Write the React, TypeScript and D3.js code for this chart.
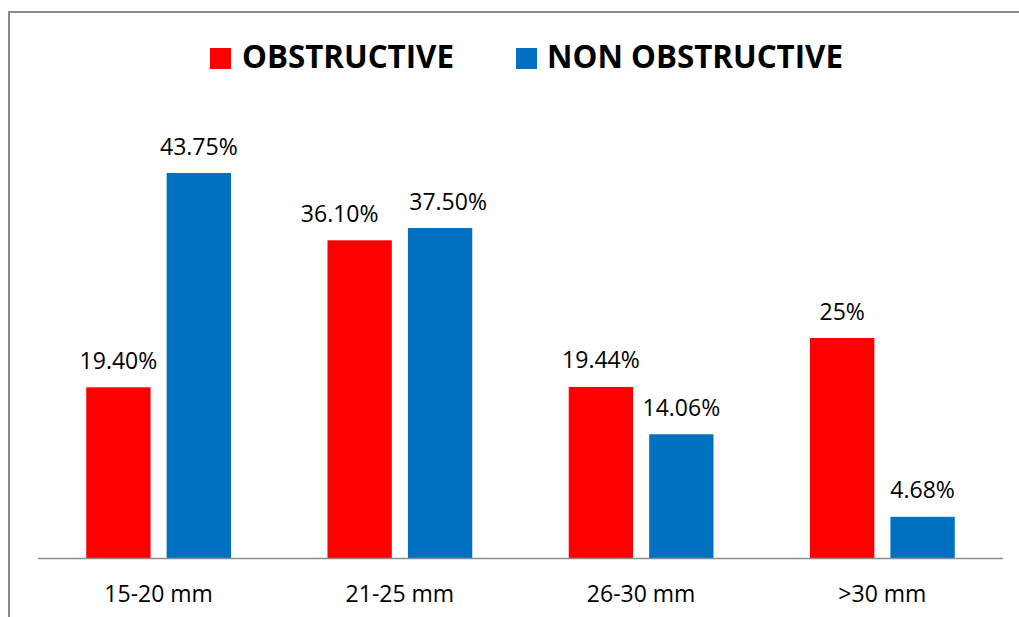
import React from "react";
import * as d3 from "d3";

const categories = ["15-20 mm", "21-25 mm", "26-30 mm", ">30 mm"];
const seriesNames = ["OBSTRUCTIVE", "NON OBSTRUCTIVE"];
const obstructive = [19.4, 36.1, 19.44, 25];
const nonObstructive = [43.75, 37.5, 14.06, 4.68];
const obstructiveLabels = ["19.40%", "36.10%", "19.44%", "25%"];
const nonObstructiveLabels = ["43.75%", "37.50%", "14.06%", "4.68%"];
const colors = ["#FF0000", "#0070C0"];

// Horizontal nudges that keep neighbouring value labels from colliding
const labelNudge: Record<string, [number, number]> = {
  "21-25 mm": [-20, 8],
};

const W = 1019;
const H = 617;
const FONT = "'Open Sans', 'Liberation Sans', sans-serif";

export default function App() {
  const x0 = d3
    .scaleBand<string>()
    .domain(categories)
    .range([38, 1003])
    .paddingInner(0.4)
    .paddingOuter(0.2);
  const x1 = d3
    .scaleBand<string>()
    .domain(seriesNames)
    .range([0, x0.bandwidth()])
    .paddingInner(0.2);
  const y = d3.scaleLinear().domain([0, 50]).range([558, 118]);

  const values = [obstructive, nonObstructive];
  const labels = [obstructiveLabels, nonObstructiveLabels];

  const legend = [
    { name: seriesNames[0], color: colors[0], sx: 210, tx: 242, len: 212 },
    { name: seriesNames[1], color: colors[1], sx: 516, tx: 547, len: 296 },
  ];

  return (
    <div style={{ position: "fixed", left: 0, top: 0 }}>
      <svg width={W} height={H} style={{ display: "block", background: "#fff" }}>
        {/* chart frame */}
        <rect x={9} y={12} width={W + 20} height={H + 20} fill="none" stroke="#898989" strokeWidth={2} />

        {/* legend */}
        {legend.map((l) => (
          <g key={l.name}>
            <rect x={l.sx} y={48} width={21} height={21} fill={l.color} />
            <text
              x={l.tx}
              y={68}
              fontFamily={FONT}
              fontWeight={700}
              fontSize={32}
              fill="#000"
              textLength={l.len}
              lengthAdjust="spacingAndGlyphs"
            >
              {l.name}
            </text>
          </g>
        ))}

        {/* bars and value labels */}
        {categories.map((c, i) => (
          <g key={c} transform={`translate(${x0(c)},0)`}>
            {seriesNames.map((s, j) => {
              const v = values[j][i];
              const bx = x1(s) as number;
              const dx = labelNudge[c] ? labelNudge[c][j] : 0;
              return (
                <g key={s}>
                  <rect x={bx} y={y(v)} width={x1.bandwidth()} height={y(0) - y(v)} fill={colors[j]} />
                  <text
                    x={bx + x1.bandwidth() / 2 + dx}
                    y={y(v) - 18.5}
                    textAnchor="middle"
                    fontFamily={FONT}
                    fontSize={23}
                    fill="#000"
                  >
                    {labels[j][i]}
                  </text>
                </g>
              );
            })}
          </g>
        ))}

        {/* category axis */}
        <line x1={38} x2={1003} y1={558.5} y2={558.5} stroke="#8c8c8c" strokeWidth={1.5} />
        {categories.map((c) => (
          <text
            key={c}
            x={(x0(c) as number) + x0.bandwidth() / 2}
            y={602}
            textAnchor="middle"
            fontFamily={FONT}
            fontSize={23}
            fill="#000"
          >
            {c}
          </text>
        ))}
      </svg>
    </div>
  );
}
